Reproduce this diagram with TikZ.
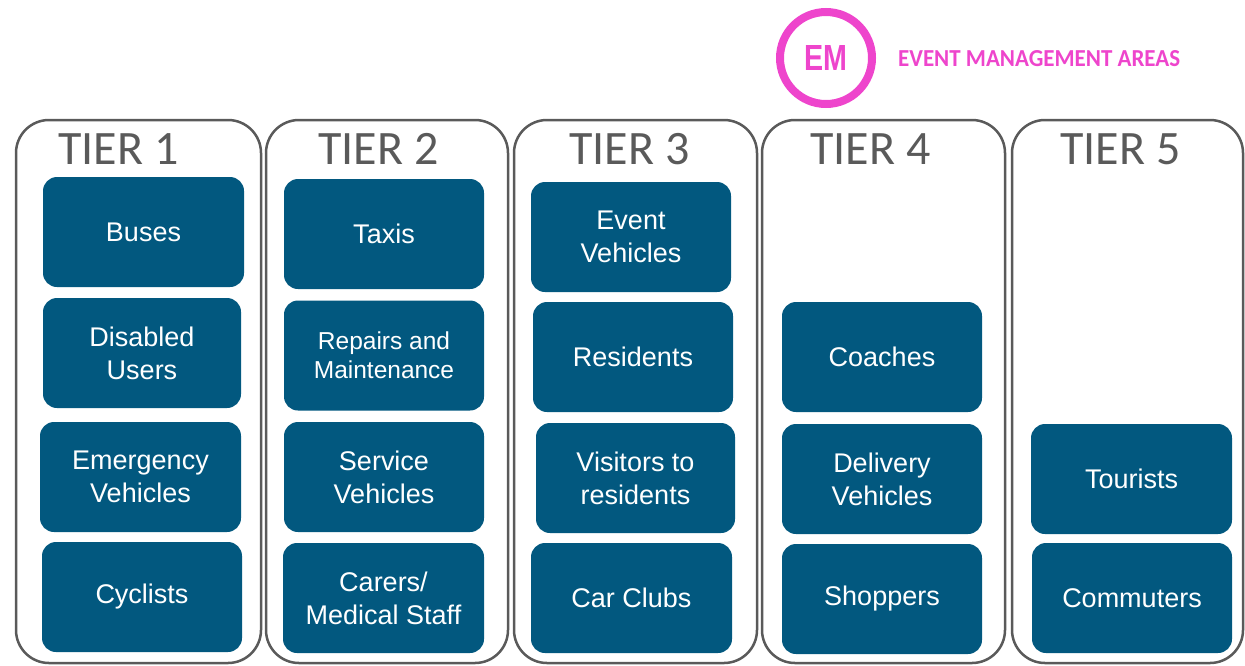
\documentclass[tikz,border=0pt]{standalone}
\usepackage{fontspec}
\setmainfont{Liberation Sans}
\newfontfamily\calib{Carlito}
\definecolor{boxblue}{HTML}{02587F}
\definecolor{tiergray}{HTML}{5A5A5A}
\definecolor{emmag}{HTML}{EE45CC}
\begin{document}
\begin{tikzpicture}[x=1pt,y=-1pt,
  tier/.style={draw=tiergray, line width=2.5pt, rounded corners=33pt, minimum height=543pt, inner sep=0pt},
  cat/.style={fill=boxblue, rounded corners=14pt, text=white, align=center, inner sep=0pt,
    minimum width=200pt, minimum height=110pt, font=\fontsize{27}{33}\selectfont},
  small/.style={font=\fontsize{24.5}{29}\selectfont},
  tierlabel/.style={text=tiergray, anchor=base west, inner sep=0pt, font=\calib\fontsize{48}{50}\selectfont}]
\useasboundingbox (0,0) rectangle (1245,665);
% tiers
\node[tier, minimum width=245pt] (t1) at (138.5,391.5) {};
\node[tier, minimum width=242pt] (t2) at (387,391.5) {};
\node[tier, minimum width=243pt] (t3) at (635.5,391.5) {};
\node[tier, minimum width=243pt] (t4) at (883.5,391.5) {};
\node[tier, minimum width=231pt] (t5) at (1127.5,391.5) {};
% tier labels
\node[tierlabel] (l1) at (58,164) {TIER 1};
\node[tierlabel] (l2) at (318,164) {TIER 2};
\node[tierlabel] (l3) at (569,164) {TIER 3};
\node[tierlabel] (l4) at (810,164) {TIER 4};
\node[tierlabel] (l5) at (1060,164) {TIER 5};
% tier 1
\node[cat, minimum width=201pt] (buses) at (143.5,232) {Buses};
\node[cat, minimum width=198pt] (disabled) at (142,353) {Disabled\\Users};
\node[cat, minimum width=201pt] (emerg) at (140.5,477) {Emergency\\Vehicles};
\node[cat] (cycl) at (142,597) {Cyclists};
% tier 2
\node[cat] (taxis) at (384,234) {Taxis};
\node[cat, small] (repairs) at (384,355.5) {Repairs and\\Maintenance};
\node[cat] (service) at (384,477) {Service\\Vehicles};
\node[cat, minimum width=201pt] (carers) at (383.5,598) {Carers/\\Medical Staff};
% tier 3
\node[cat] (event) at (631,237) {Event\\Vehicles};
\node[cat] (resid) at (633,357) {Residents};
\node[cat, minimum width=199pt] (visit) at (635.5,478) {Visitors to\\residents};
\node[cat, minimum width=201pt] (carclub) at (631.5,598) {Car Clubs};
% tier 4
\node[cat] (coach) at (882,357) {Coaches};
\node[cat] (deliv) at (882,479) {Delivery\\Vehicles};
\node[cat] (shop) at (882,599) {Shoppers};
% tier 5
\node[cat, minimum width=201pt] (tour) at (1131.5,479) {Tourists};
\node[cat] (comm) at (1132,598) {Commuters};
% EM legend
\node[circle, draw=emmag, line width=8pt, minimum size=92pt, inner sep=0pt] (em) at (826,58) {};
\node[anchor=center, inner sep=0pt, text=emmag] (emt) at (em.center) {\resizebox{43pt}{25pt}{\bfseries EM}};
\node[anchor=south west, inner sep=0pt, text=emmag] (emlab) at (898,67) {\resizebox{282pt}{16pt}{\calib\bfseries EVENT MANAGEMENT AREAS}};
\end{tikzpicture}
\end{document}
